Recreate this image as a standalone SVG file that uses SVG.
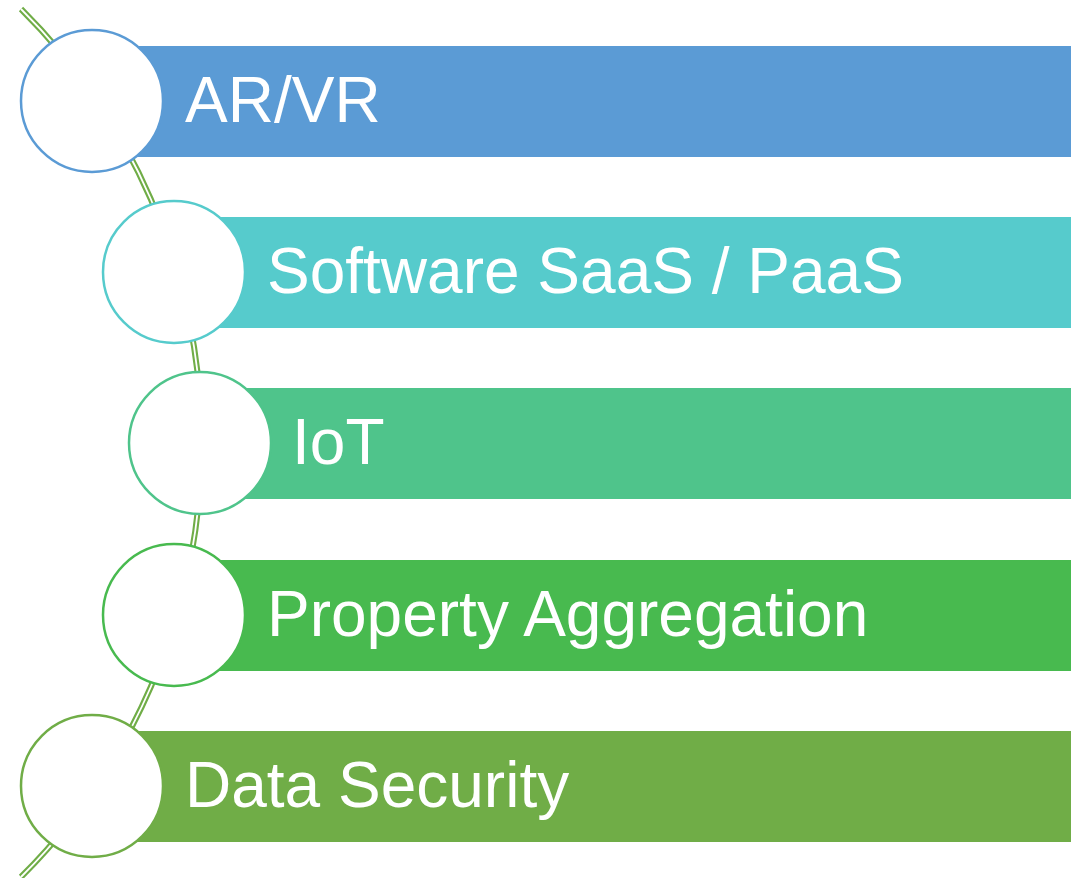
<svg xmlns="http://www.w3.org/2000/svg" width="1079" height="878" viewBox="0 0 1079 878">
<style>
.lbl{font-family:"Liberation Sans",Arial,sans-serif;font-size:64px;fill:#ffffff}
.ring{fill:#ffffff;stroke-width:2.5}
</style>
<rect width="1079" height="878" fill="#ffffff"/>
<g id="connectors">
<path d="M 21 9 A 612 612 0 0 1 21 877" fill="none" stroke="#70ad47" stroke-width="6"/>
<path d="M 21 9 A 612 612 0 0 1 21 877" fill="none" stroke="#ffffff" stroke-width="1.8"/>
</g>
<g id="node1">
<rect x="92" y="46" width="979" height="111" fill="#5b9bd5"/>
<circle cx="92" cy="101" r="71" class="ring" stroke="#5b9bd5"/>
<text x="185" y="122" class="lbl">AR/VR</text>
</g>
<g id="node2">
<rect x="174" y="217" width="897" height="111" fill="#56cbcc"/>
<circle cx="174" cy="272" r="71" class="ring" stroke="#56cbcc"/>
<text x="267" y="293" class="lbl">Software SaaS / PaaS</text>
</g>
<g id="node3">
<rect x="200" y="388" width="871" height="111" fill="#4fc48b"/>
<circle cx="200" cy="443" r="71" class="ring" stroke="#4fc48b"/>
<text x="292" y="464" class="lbl">IoT</text>
</g>
<g id="node4">
<rect x="174" y="560" width="897" height="111" fill="#48ba4f"/>
<circle cx="174" cy="615" r="71" class="ring" stroke="#48ba4f"/>
<text x="267" y="636" class="lbl">Property Aggregation</text>
</g>
<g id="node5">
<rect x="92" y="731" width="979" height="111" fill="#70ad47"/>
<circle cx="92" cy="786" r="71" class="ring" stroke="#70ad47"/>
<text x="185" y="807" class="lbl">Data Security</text>
</g>
</svg>
